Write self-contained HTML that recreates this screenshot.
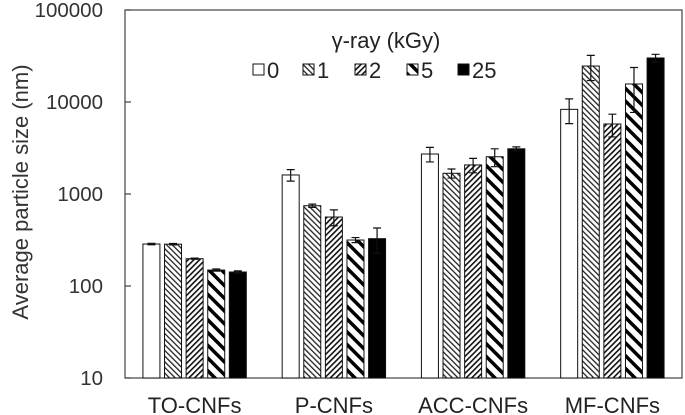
<!DOCTYPE html>
<html><head><meta charset="utf-8"><style>
html,body{margin:0;padding:0;background:#fff;}
svg{display:block;font-family:"Liberation Sans",Arial,sans-serif;}
</style></head><body>
<svg id="chart" width="685" height="415" viewBox="0 0 685 415">
<defs>
<pattern id="p1" patternUnits="userSpaceOnUse" width="4" height="4" patternTransform="rotate(-45)"><rect width="4" height="4" fill="#fff"/><rect width="1.3" height="4" fill="#222"/></pattern>
<pattern id="p2" patternUnits="userSpaceOnUse" width="4" height="4" patternTransform="rotate(45)"><rect width="4" height="4" fill="#fff"/><rect width="1.6" height="4" fill="#111"/></pattern>
<pattern id="p5" patternUnits="userSpaceOnUse" width="9" height="9" patternTransform="rotate(-45)"><rect width="9" height="9" fill="#fff"/><rect width="3.5" height="9" fill="#000"/></pattern>
</defs>
<g id="plot"></g>
</svg>
<script>
const categories = ["TO-CNFs","P-CNFs","ACC-CNFs","MF-CNFs"];
const seriesNames = ["0","1","2","5","25"];
const s0 = [286, 1610, 2720, 8320];
const s1 = [285, 746, 1680, 24600];
const s2 = [198, 562, 2070, 5770];
const s5 = [149, 316, 2540, 15700];
const s25 = [142, 327, 3100, 30100];
const e0 = [5, 230, 490, 2500];
const e1 = [5, 30, 190, 7500];
const e2 = [3, 110, 370, 1600];
const e5 = [4, 20, 560, 8000];
const e25 = [4, 100, 150, 2900];
const yTicks = [10, 100, 1000, 10000, 100000];
const yTickLabels = ["10","100","1000","10000","100000"];

const NS="http://www.w3.org/2000/svg";
const g=document.getElementById('plot');
const X0=125,X1=682,Y0=378,Y1=10;
function y(v){return Y0-(Y0-Y1)*(Math.log10(v)-1)/4;}
function gc(i){return X0+(X1-X0)/categories.length*(i+0.5);}
function mk(t,a,p){const e=document.createElementNS(NS,t);for(const k in a)e.setAttribute(k,a[k]);(p||g).appendChild(e);return e;}
const fills=["#fff","url(#p1)","url(#p2)","url(#p5)","#000"];
const vals=[s0,s1,s2,s5,s25], errs=[e0,e1,e2,e5,e25];
const bw=17, pitch=21.6;
let fr=mk('rect',{x:X0,y:Y1,width:X1-X0,height:Y0-Y1,fill:'none',stroke:'#444','stroke-width':1.2});


yTicks.forEach((t,i)=>{
  let l=mk('line',{x1:X0,x2:X0+6,y1:y(t),y2:y(t),stroke:'#444','stroke-width':1.2});
  
  
  let tx=mk('text',{x:103,y:y(t)+7,'text-anchor':'end','font-size':20.5,fill:'#333'});
  tx.textContent=yTickLabels[i];
  
  
});
categories.forEach((c,i)=>{
  vals.forEach((s,j)=>{
    const cx=gc(i)+(j-2)*pitch, top=y(s[i]);
    let r=mk('rect',{x:cx-bw/2,y:top,width:bw,height:Y0-top,fill:fills[j],stroke:'#111','stroke-width':1});
    
    
    const hi=y(s[i]+errs[j][i]), lo=y(Math.max(s[i]-errs[j][i],10.5));
    let eb=mk('path',{d:`M${cx},${hi}V${lo}M${cx-4},${hi}H${cx+4}M${cx-4},${lo}H${cx+4}`,stroke:'#111','stroke-width':1.2,fill:'none'});
    
    
  });
  let t=mk('text',{x:gc(i),y:413,'text-anchor':'middle','font-size':22,fill:'#222'});
  t.textContent=c;
  
  
});
let yt=mk('text',{x:0,y:0,'text-anchor':'middle','font-size':22,fill:'#333',transform:'translate(28,192) rotate(-90)'});
yt.textContent='Average particle size  (nm)';


let lt=mk('text',{x:386,y:48,'text-anchor':'middle','font-size':22,fill:'#222'});
lt.textContent='γ-ray (kGy)';


const lx=[253,303,355,407,458];
seriesNames.forEach((n,j)=>{
  let b=mk('rect',{x:lx[j],y:64,width:11,height:11,fill:fills[j],stroke:'#111','stroke-width':1});
  
  
  let t=mk('text',{x:lx[j]+14,y:78,'font-size':22,fill:'#222'});
  t.textContent=n;
  
  
});
</script>
</body></html>
